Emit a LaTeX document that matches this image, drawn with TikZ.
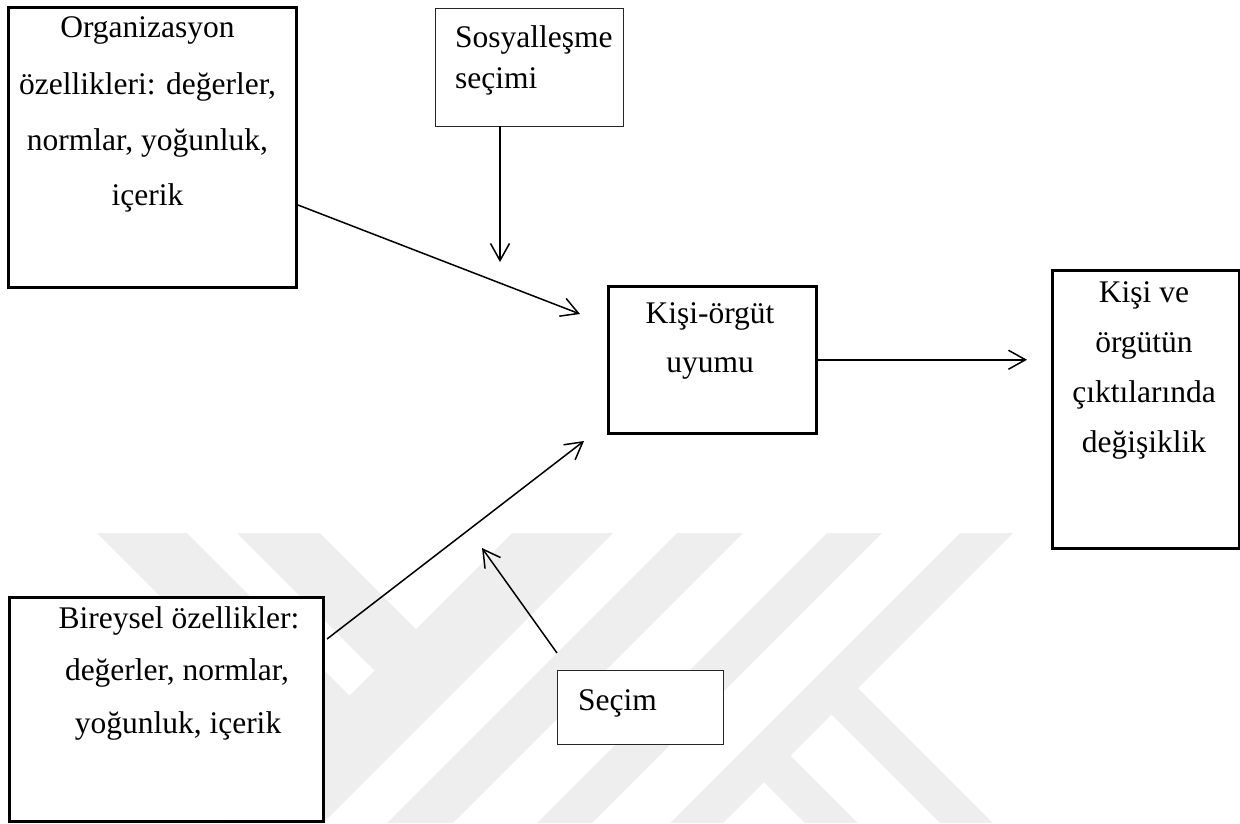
\documentclass[tikz,border=0pt]{standalone}
\usepackage{fontspec}
\setmainfont{Liberation Serif}
\usetikzlibrary{arrows.meta}
\definecolor{wmark}{RGB}{238,238,238}
\begin{document}
\begin{tikzpicture}[x=1pt,y=-1pt,
  thickbox/.style={draw=black, line width=2.5pt, fill=white, inner sep=0pt, anchor=north west},
  thinbox/.style={draw=black!85, line width=1.3pt, fill=white, inner sep=0pt, anchor=north west},
  txt/.style={inner sep=0pt, anchor=base, font=\fontsize{31.5}{38}\selectfont},
  txtL/.style={txt, anchor=base west},
  link/.style={line width=1.5pt, -{Straight Barb[length=17pt,width=19pt]}},
  wm/.style={fill=wmark, draw=none}]
\useasboundingbox (0,0) rectangle (1240,823);

% faint background emblem
\begin{scope}
  \clip (0,533) rectangle (1240,823);
  \fill[wm] (97,533) -- (187,533) -- (349.5,695.5) -- (304.5,740.5) -- cycle;
  \fill[wm] (237,533) -- (320,533) -- (416,629) -- (374.5,670.5) -- cycle;
  \fill[wm] (512,533) -- (613,533) -- (323,823) -- (222,823) -- cycle;
  \fill[wm] (677,533) -- (743,533) -- (453,823) -- (387,823) -- cycle;
  \fill[wm] (827,533) -- (882,533) -- (592,823) -- (537,823) -- cycle;
  \fill[wm] (960,533) -- (1013,533) -- (723,823) -- (670,823) -- cycle;
  \fill[wm] (857,687) -- (993,823) -- (940,823) -- (830,713) -- cycle;
  \fill[wm] (788,753) -- (858,823) -- (805,823) -- (762,780) -- cycle;
\end{scope}

% boxes
\node[thickbox, minimum width=288pt, minimum height=280pt] (org) at (7,6) {};
\node[thinbox, minimum width=188pt, minimum height=118pt] (sos) at (435,8) {};
\node[thickbox, minimum width=208pt, minimum height=147pt] (kisi) at (607,285) {};
\node[thickbox, minimum width=187pt, minimum height=278pt] (kvo) at (1051,269) {};
\node[thickbox, minimum width=314pt, minimum height=224pt] (bir) at (8,596) {};
\node[thinbox, minimum width=166pt, minimum height=74pt] (sec) at (557,670) {};

% box texts
\node[txt] (org1) at (147.5,37) {Organizasyon};
\node[txt] (org2) at (147.5,94) {özellikleri: değerler,};
\node[txt] (org3) at (147.5,150) {normlar, yoğunluk,};
\node[txt] (org4) at (147.5,205) {içerik};

\node[txtL] (sos1) at (455,47) {Sosyalleşme};
\node[txtL] (sos2) at (455,88) {seçimi};

\node[txt] (kisi1) at (710,323) {Kişi-örgüt};
\node[txt] (kisi2) at (710,372) {uyumu};

\node[txt] (kvo1) at (1144,302) {Kişi ve};
\node[txt] (kvo2) at (1144,352) {örgütün};
\node[txt] (kvo3) at (1144,402) {çıktılarında};
\node[txt] (kvo4) at (1144,452) {değişiklik};

\node[txt] (bir1) at (179,628) {Bireysel özellikler:};
\node[txt] (bir2) at (177,680) {değerler, normlar,};
\node[txt] (bir3) at (178,733) {yoğunluk, içerik};

\node[txtL] (sec1) at (578,710) {Seçim};

% connector ends
\coordinate (orgout) at (298,205);
\coordinate (kisiinA) at (580,314);
\coordinate (sosout) at (500,126);
\coordinate (sosin) at (500,262);
\coordinate (kvox) at (1027,0);
\coordinate (birout) at (327,639);
\coordinate (kisiinB) at (584,441);
\coordinate (secout) at (557,653);
\coordinate (secin) at (482,548);

% connectors
\draw[link] (orgout) -- (kisiinA);
\draw[link] (sosout) -- (sosin);
\draw[link] (kisi.east) -- (kvox |- kisi.east);
\draw[link] (birout) -- (kisiinB);
\draw[link] (secout) -- (secin);
\end{tikzpicture}
\end{document}
